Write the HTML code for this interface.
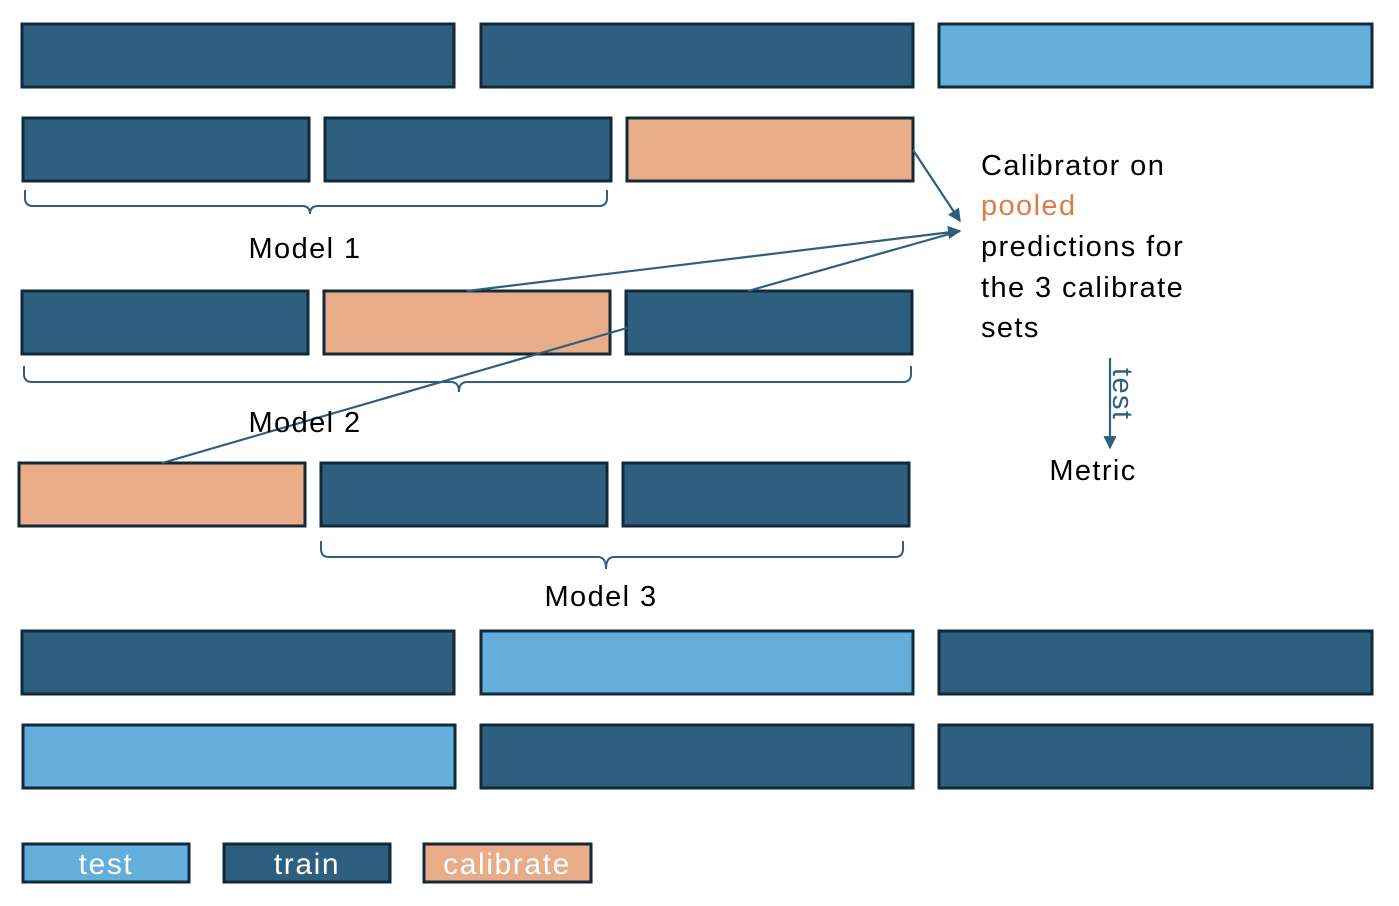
<!DOCTYPE html>
<html><head><meta charset="utf-8"><style>
html,body{margin:0;padding:0;background:#fff;}
svg{display:block;font-family:"Liberation Sans",sans-serif;}
</style></head><body>
<svg width="1399" height="906" viewBox="0 0 1399 906">
<defs><marker id="ah" viewBox="0 0 10 10" refX="9" refY="5" markerWidth="6" markerHeight="6" orient="auto"><path d="M0,0 L10,5 L0,10 z" fill="#2E5F7F"/></marker></defs>
<g id="blocks" stroke="#12293A" stroke-width="3"></g>
<g fill="none" stroke="#2E5F7F" stroke-width="2">
<path d="M25,190 v8 q0,8 8,8 H302 q8,0 8,8 q0,-8 8,-8 H599 q8,0 8,-8 v-8"/>
<path d="M24,366 v8 q0,8 8,8 H451 q8,0 8,10 q0,-10 8,-10 H903 q8,0 8,-8 v-8"/>
<path d="M321,541 v8 q0,8 8,8 H598 q8,0 8,12 q0,-12 8,-12 H895 q8,0 8,-8 v-8"/>
</g>
<g stroke="#2E5F7F" stroke-width="2.2" fill="none">
<line x1="913" y1="150" x2="960" y2="221" marker-end="url(#ah)"/>
<line x1="467" y1="291" x2="960" y2="231" marker-end="url(#ah)"/>
<line x1="748" y1="291" x2="960" y2="231"/>
<line x1="162" y1="463" x2="627" y2="328"/>
<line x1="1110" y1="358" x2="1110" y2="448" marker-end="url(#ah)"/>
</g>
<g font-size="29" fill="#000" letter-spacing="1.4">
<text x="305" y="258" text-anchor="middle">Model 1</text>
<text x="305" y="432" text-anchor="middle">Model 2</text>
<text x="601" y="606" text-anchor="middle">Model 3</text>
<text x="981" y="175">Calibrator on</text>
<text x="981" y="215" fill="#E07B45">pooled</text>
<text x="981" y="256">predictions for</text>
<text x="981" y="297">the 3 calibrate</text>
<text x="981" y="337">sets</text>
<text x="1093" y="480" text-anchor="middle">Metric</text>
<text x="0" y="0" fill="#2E5F7F" transform="translate(1113,368) rotate(90)">test</text>
</g>
<g font-size="30" fill="#fff" text-anchor="middle" letter-spacing="1.6">
<text x="106" y="874">test</text>
<text x="307" y="874">train</text>
<text x="507" y="874">calibrate</text>
</g>
</svg>
<script>
const C={train:"#2E5F7F",test:"#64AEDB",cal:"#E8AD88"};
const blocks=[
[22,24,432,"train"],[481,24,432,"train"],[939,24,433,"test"],
[23,118,286,"train"],[325,118,286,"train"],[627,118,286,"cal"],
[22,291,286,"train"],[324,291,286,"cal"],[626,291,286,"train"],
[19,463,286,"cal"],[321,463,286,"train"],[623,463,286,"train"],
[22,631,432,"train"],[481,631,432,"test"],[939,631,433,"train"],
[23,725,432,"test"],[481,725,432,"train"],[939,725,433,"train"],
[23,844,166,"test"],[224,844,166,"train"],[424,844,167,"cal"]];
const g=document.getElementById('blocks');
blocks.forEach((b,i)=>{
 const r=document.createElementNS('http://www.w3.org/2000/svg','rect');
 r.setAttribute('x',b[0]);r.setAttribute('y',b[1]);r.setAttribute('width',b[2]);
 r.setAttribute('height',i>=18?38:63);r.setAttribute('fill',C[b[3]]);
 
 
 g.appendChild(r);
});
</script>
</body></html>
